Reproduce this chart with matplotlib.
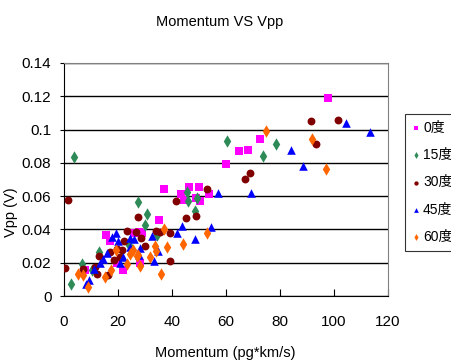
import matplotlib
matplotlib.use("Agg")
import matplotlib.pyplot as plt
from matplotlib import font_manager

fams = {f.name for f in font_manager.fontManager.ttflist}
base = 'Liberation Sans Narrow' if 'Liberation Sans Narrow' in fams else 'Liberation Sans'
plt.rcParams['font.family'] = [base, 'Noto Sans CJK JP', 'DejaVu Sans']

title = "Momentum VS Vpp"
xlabel = "Momentum (pg*km/s)"
ylabel = "Vpp (V)"
series_names = ["0度", "15度", "30度", "45度", "60度"]

x0 = [37.1, 43.2, 44.4, 46.4, 49.9, 48.9, 50.5, 53.7, 35.2, 15.6, 17.0, 26.0, 27.9, 29.0,
      22.0, 28.1, 19.8, 7.8, 97.9, 72.5, 68.3, 64.9, 59.9]
y0 = [0.0643, 0.0613, 0.0577, 0.0657, 0.0657, 0.059, 0.0573, 0.061, 0.0457, 0.0365, 0.0333,
      0.0377, 0.0387, 0.038, 0.0156, 0.0196, 0.0196, 0.0156, 0.1188, 0.0942, 0.0877, 0.087, 0.0793]

x15 = [3.7, 60.4, 78.6, 73.8, 45.4, 45.8, 49.4, 48.5, 27.4, 30.7, 30.1, 34.3, 12.8, 6.7,
       2.7, 24.2, 10.2]
y15 = [0.0835, 0.0932, 0.0916, 0.0843, 0.0627, 0.0571, 0.0587, 0.0511, 0.0563, 0.0493,
       0.0429, 0.0367, 0.0264, 0.0192, 0.0072, 0.0307, 0.0156]

x30 = [1.5, 0.4, 91.6, 101.6, 93.2, 67.0, 69.0, 53.1, 41.5, 45.2, 48.9, 27.5, 28.4, 30.1,
       34.1, 35.6, 39.3, 39.3, 23.5, 26.7, 21.4, 19.5, 17.0, 18.5, 20.7, 13.1, 11.5, 12.3,
       16.3, 6.9, 22.2]
y30 = [0.0577, 0.0168, 0.1054, 0.1058, 0.0912, 0.0705, 0.0737, 0.0641, 0.0573, 0.0471,
       0.0483, 0.0477, 0.0347, 0.030, 0.0393, 0.0387, 0.038, 0.021, 0.0389, 0.0387, 0.0276,
       0.0281, 0.0266, 0.0216, 0.0233, 0.024, 0.0176, 0.0132, 0.0124, 0.016, 0.0333]

x45 = [104.4, 113.3, 84.2, 88.6, 57.2, 69.3, 54.6, 43.7, 41.7, 48.6, 34.9, 33.5, 32.7,
       28.1, 27.7, 19.3, 17.8, 19.9, 24.4, 25.9, 22.0, 20.7, 15.8, 14.3, 13.3, 11.1, 9.4,
       8.1, 24.4]
y45 = [0.1038, 0.0984, 0.0877, 0.0781, 0.0621, 0.0621, 0.0417, 0.0421, 0.038, 0.034,
       0.0272, 0.021, 0.036, 0.0287, 0.0246, 0.038, 0.0357, 0.0333, 0.0347, 0.034, 0.0236,
       0.0196, 0.0257, 0.022, 0.020, 0.016, 0.0096, 0.0072, 0.0297]

x60 = [74.7, 91.9, 97.2, 53.0, 44.1, 38.1, 37.1, 33.6, 34.0, 31.9, 36.0, 28.1, 23.2, 25.4,
       24.4, 26.9, 19.1, 17.3, 15.3, 9.0, 6.9, 5.1, 27.5]
y60 = [0.099, 0.0942, 0.0765, 0.038, 0.0315, 0.0293, 0.0405, 0.0302, 0.0272, 0.0233,
       0.013, 0.0182, 0.019, 0.0276, 0.025, 0.0242, 0.0276, 0.0156, 0.0116, 0.0056, 0.0126,
       0.0132, 0.0246]

xticks = [0, 20, 40, 60, 80, 100, 120]
yticks = [0, 0.02, 0.04, 0.06, 0.08, 0.1, 0.12, 0.14]
yticklabels = ["0", "0.02", "0.04", "0.06", "0.08", "0.1", "0.12", "0.14"]

fig = plt.figure(figsize=(4.52, 3.63), dpi=100)
ax = fig.add_axes([64/452, 1-296/363, (388-64)/452, (296-63)/363])

styles = [
    (x0, y0, 's', '#ff00ff', 30),
    (x15, y15, 'd', '#2e8b57', 40),
    (x30, y30, 'o', '#800000', 32),
    (x45, y45, '^', '#0000ff', 38),
    (x60, y60, 'd', '#ff6600', 40),
]
handles = []
for (xs, ys, m, c, s), name in zip(styles, series_names):
    h = ax.scatter(xs, ys, marker=m, color=c, s=s, linewidths=0, label=name, zorder=3)
    handles.append(h)

ax.set_xlim(0, 120)
ax.set_ylim(0, 0.14)
ax.set_xticks(xticks)
ax.set_yticks(yticks)
ax.set_yticklabels(yticklabels)
ax.yaxis.grid(True, color='black', linewidth=1)
ax.set_axisbelow(True)
ax.tick_params(axis='x', direction='in', length=5, pad=14, labelsize=11)
ax.tick_params(axis='y', direction='out', length=3, pad=6, labelsize=11)
for side in ['top', 'right']:
    ax.spines[side].set_color('#808080')
for side in ['left', 'bottom']:
    ax.spines[side].set_color('black')

fig.text(220/452, 1-22/363, title, ha='center', va='center', fontsize=10.5)
fig.text(225/452, 1-353/363, xlabel, ha='center', va='center', fontsize=10.5)
fig.text(11/452, 1-212/363, ylabel, ha='center', va='center', rotation=90, fontsize=10.5)

leg = fig.legend(handles=handles, loc='upper left', bbox_to_anchor=(405/452, 1-114/363),
                 frameon=True, fancybox=False, edgecolor='black', fontsize=10,
                 markerscale=0.55, handletextpad=0.2, handlelength=0.6,
                 labelspacing=0.95, borderpad=0.5, borderaxespad=0)
leg.get_frame().set_linewidth(0.8)

fig.savefig("out.png", dpi=100)
